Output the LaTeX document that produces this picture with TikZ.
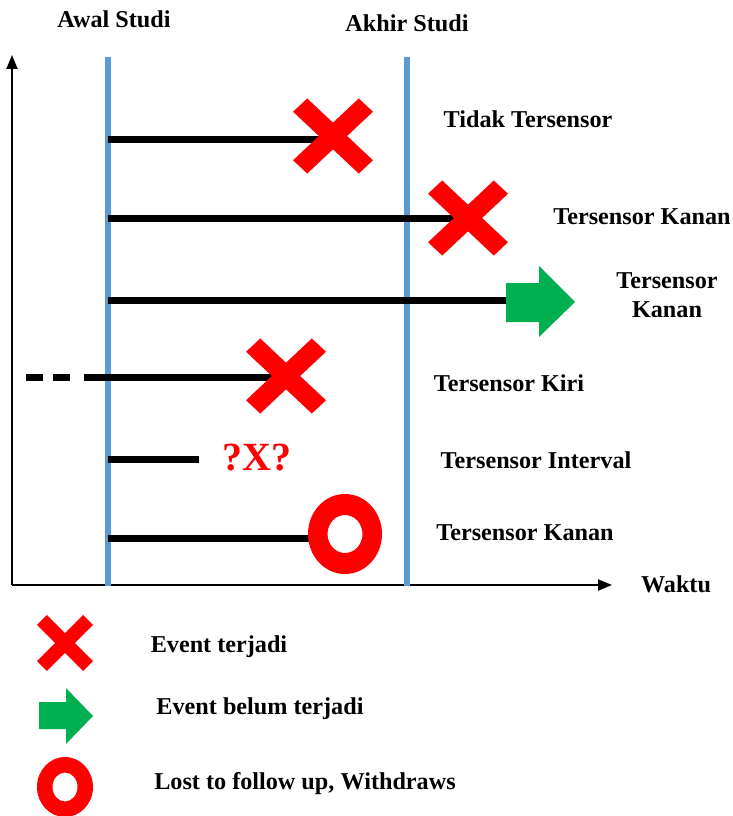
\documentclass[tikz,border=0pt]{standalone}
\usepackage{fontspec}
\setmainfont{Liberation Serif}
\usetikzlibrary{arrows.meta}
\definecolor{bluel}{RGB}{91,155,213}
\definecolor{redx}{RGB}{255,0,0}
\definecolor{greena}{RGB}{0,176,80}
\tikzset{
  lbl/.style={font=\fontsize{24.2}{29}\selectfont\bfseries, inner sep=0pt, align=center},
  bar/.style={line width=7pt, black},
  studyline/.style={line width=6pt, bluel},
  axis/.style={line width=2pt, -{Triangle[length=14pt,width=11pt]}},
  xmark/.pic={
    \fill[redx,rotate=45] (-46.5,-10) rectangle (46.5,10);
    \fill[redx,rotate=-45] (-46.5,-10) rectangle (46.5,10);
  },
}
\begin{document}
\begin{tikzpicture}[x=1pt,y=-1pt]
\useasboundingbox (0,0) rectangle (733,816);
% axes
\coordinate (O) at (12,585);
\coordinate (ytop) at (12,55);
\coordinate (xend) at (612,585);
\draw[axis] (O) -- (ytop);
\draw[axis] (O) -- (xend);
% study lines
\coordinate (a1) at (108,57); \coordinate (a2) at (108,586);
\coordinate (b1) at (407,57); \coordinate (b2) at (407,586);
\draw[studyline] (a1) -- (a2);
\draw[studyline] (b1) -- (b2);
\node[lbl] (awal) at (114,19) {Awal Studi};
\node[lbl] (akhir) at (407,23) {Akhir Studi};
% row 1
\coordinate (r1s) at (108,139); \coordinate (r1e) at (330,139);
\draw[bar] (r1s) -- (r1e);
\pic[yscale=0.94] at (333,136) {xmark};
\node[lbl] (t1) at (528,119) {Tidak Tersensor};
% row 2
\coordinate (r2s) at (108,218); \coordinate (r2e) at (462,218);
\draw[bar] (r2s) -- (r2e);
\pic[yscale=0.94] at (468,218) {xmark};
\node[lbl] (t2) at (642,217) {Tersensor Kanan};
% row 3
\coordinate (r3s) at (108,300); \coordinate (r3e) at (507,300);
\draw[bar] (r3s) -- (r3e);
\fill[greena] (506,283) -- (539,283) -- (539,266) -- (575,302) -- (539,337) -- (539,322) -- (506,322) -- cycle;
\node[lbl] (t3) at (667,295) {Tersensor\\Kanan};
% row 4
\coordinate (r4d) at (26,377); \coordinate (r4m) at (72,377);
\coordinate (r4s) at (84,377); \coordinate (r4e) at (285,377);
\draw[bar, dash pattern=on 17pt off 10pt] (r4d) -- (r4m);
\draw[bar] (r4s) -- (r4e);
\pic[yscale=0.94] at (286,376) {xmark};
\node[lbl] (t4) at (509,383) {Tersensor Kiri};
% row 5
\coordinate (r5s) at (108,459); \coordinate (r5e) at (199,459);
\draw[bar] (r5s) -- (r5e);
\node[lbl, text=redx, font=\fontsize{40}{42}\selectfont\bfseries] (q) at (257,458) {?X?};
\node[lbl] (t5) at (536,460) {Tersensor Interval};
% row 6
\coordinate (r6s) at (108,538); \coordinate (r6e) at (320,538);
\draw[bar] (r6s) -- (r6e);
\fill[redx, even odd rule] (345,534) ellipse [x radius=37, y radius=40]
  (345,534) ellipse [x radius=17.5, y radius=19];
\node[lbl] (t6) at (525,533) {Tersensor Kanan};
\node[lbl] (waktu) at (676,584) {Waktu};
% legend
\pic[scale=0.7] at (65,643) {xmark};
\node[lbl] (l1) at (219,647) {Event terjadi};
\fill[greena] (39,702) -- (66,702) -- (66,688) -- (93,716) -- (66,744) -- (66,729) -- (39,729) -- cycle;
\node[lbl] (l2) at (260,709) {Event belum terjadi};
\fill[redx, even odd rule] (65,787) ellipse [x radius=28, y radius=30]
  (65,787) ellipse [x radius=12.5, y radius=14.5];
\node[lbl] (l3) at (305,784) {Lost to follow up, Withdraws};
\end{tikzpicture}
\end{document}
